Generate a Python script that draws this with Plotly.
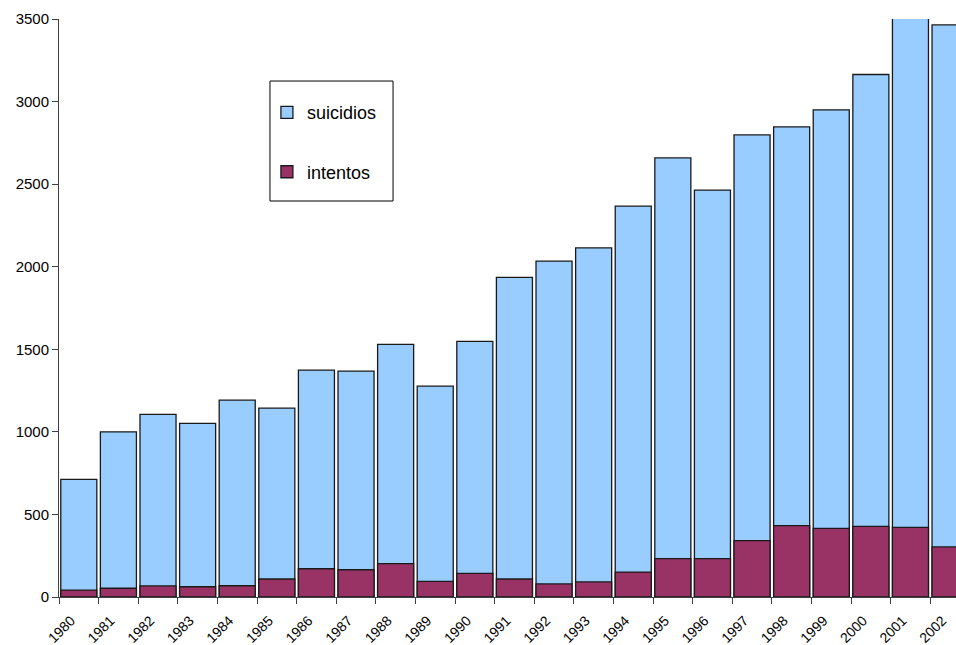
import plotly.graph_objects as go

years = list(range(1980, 2003))
year_labels = [str(y) for y in years]
suicidios = [712, 1000, 1106, 1051, 1192, 1144, 1374, 1368, 1530, 1277, 1548,
             1935, 2034, 2114, 2367, 2659, 2464, 2798, 2847, 2950, 3164, 3513, 3464]
intentos = [42, 53, 67, 62, 68, 109, 171, 165, 202, 95, 143,
            109, 79, 91, 151, 232, 232, 341, 432, 416, 428, 422, 303]

xpos = [y + 0.5 for y in years]

fig = go.Figure()
fig.add_trace(go.Bar(x=xpos, y=suicidios, name="suicidios", width=0.91,
                     marker=dict(color="#99CCFF", line=dict(color="#1a1a1a", width=1.3)),
                     legendgroup="a"))
fig.add_trace(go.Bar(x=xpos, y=intentos, name="intentos", width=0.91,
                     marker=dict(color="#993366", line=dict(color="#1a1a1a", width=1.3)),
                     legendgroup="b"))

# legend frame
fig.add_shape(type="rect", xref="paper", yref="paper",
              x0=0.2352, x1=0.3724, y0=0.6851, y1=0.8927,
              line=dict(color="black", width=1), fillcolor="white", layer="below")

fig.update_layout(
    width=956, height=645,
    barmode="overlay",
    plot_bgcolor="white", paper_bgcolor="white",
    margin=dict(l=59, r=0, t=19, b=48, autoexpand=False),
    font=dict(family="Liberation Sans, Arial", color="black", size=14),
    showlegend=True,
    legend=dict(x=0.2318, y=0.870, xanchor="left", yanchor="top",
                borderwidth=0, bgcolor="rgba(0,0,0,0)",
                font=dict(size=18), tracegroupgap=33, traceorder="grouped",
                itemwidth=30),
    xaxis=dict(range=[1980, 2002.65], tickvals=years, ticktext=year_labels,
               tickangle=-45, showgrid=False, zeroline=False, automargin=False,
               showline=True, linecolor="#404040", linewidth=1,
               ticks="outside", ticklen=6, tickcolor="#404040",
               ticklabelshift=12, ticklabelstandoff=3,
               tickfont=dict(size=14)),
    yaxis=dict(range=[0, 3500], tickvals=[0, 500, 1000, 1500, 2000, 2500, 3000, 3500],
               showgrid=False, zeroline=False, automargin=False,
               showline=True, linecolor="#404040", linewidth=1,
               ticks="outside", ticklen=6, tickcolor="#404040",
               tickfont=dict(size=15)),
)

fig.write_html("out.html")
